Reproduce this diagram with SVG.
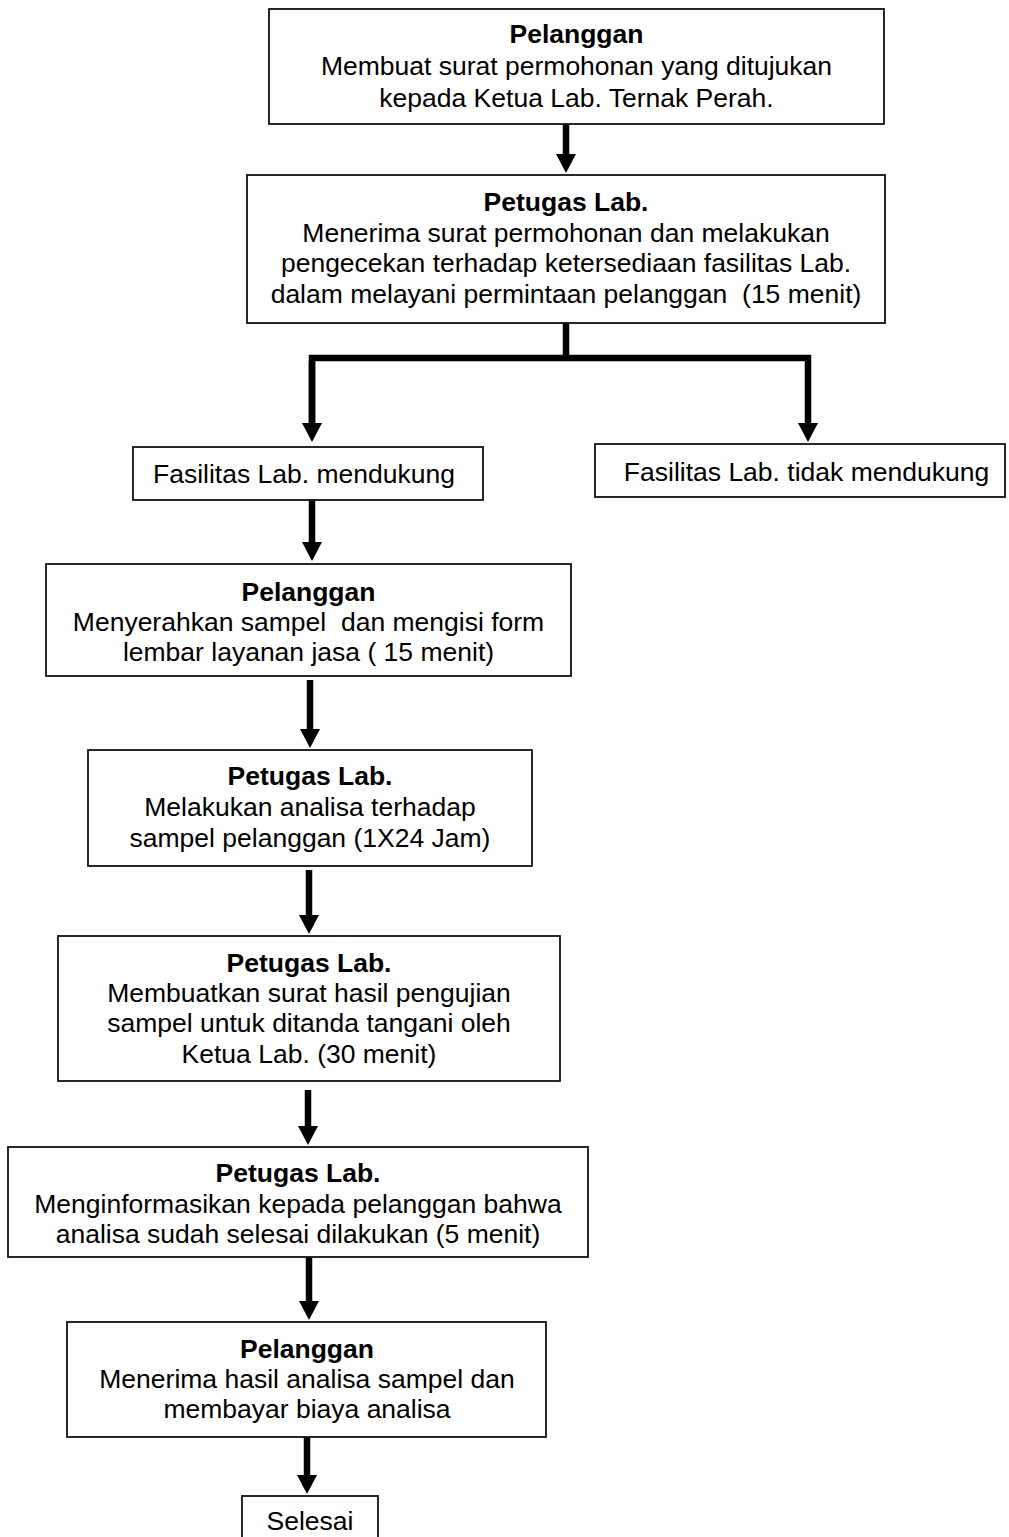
<svg xmlns="http://www.w3.org/2000/svg" width="1009" height="1537" viewBox="0 0 1009 1537" xml:space="preserve">
<style>
  .box { fill: #fff; stroke: #111; stroke-width: 1.8; }
  .t { font-family: "Liberation Sans", Arial, sans-serif; font-size: 26.5px; fill: #000; text-anchor: middle; white-space: pre; }
  .b { font-weight: bold; }
  .conn { fill: none; stroke: #000; stroke-width: 6.5; }
</style>
<defs>
  <marker id="ah" markerUnits="userSpaceOnUse" markerWidth="20" markerHeight="20" refX="1" refY="10" orient="auto" viewBox="0 0 20 20">
    <path d="M0,0 L19,10 L0,20 z" fill="#000"/>
  </marker>
</defs>
<rect width="1009" height="1537" fill="#fff"/>

<g id="connectors">
  <path class="conn" d="M566,124 V155" marker-end="url(#ah)"/>
  <path class="conn" d="M566,323 V358"/>
  <path class="conn" d="M312,424 V358 H808 V424" marker-end="url(#ah)"/>
  <path class="conn" d="M312,362 V424" marker-end="url(#ah)"/>
  <path class="conn" d="M312,500 V543" marker-end="url(#ah)"/>
  <path class="conn" d="M310,680 V730" marker-end="url(#ah)"/>
  <path class="conn" d="M309,870 V916" marker-end="url(#ah)"/>
  <path class="conn" d="M308,1090 V1127" marker-end="url(#ah)"/>
  <path class="conn" d="M309,1257 V1302" marker-end="url(#ah)"/>
  <path class="conn" d="M307,1437 V1476" marker-end="url(#ah)"/>
</g>

<g id="n1">
  <rect class="box" x="269" y="9" width="615" height="115"/>
  <text class="t b" x="576.5" y="43">Pelanggan</text>
  <text class="t" x="576.5" y="75">Membuat surat permohonan yang ditujukan</text>
  <text class="t" x="576.5" y="107">kepada Ketua Lab. Ternak Perah.</text>
</g>

<g id="n2">
  <rect class="box" x="247" y="175" width="638" height="148"/>
  <text class="t b" x="566" y="211">Petugas Lab.</text>
  <text class="t" x="566" y="242">Menerima surat permohonan dan melakukan</text>
  <text class="t" x="566" y="272">pengecekan terhadap ketersediaan fasilitas Lab.</text>
  <text class="t" x="566" y="303">dalam melayani permintaan pelanggan  (15 menit)</text>
</g>

<g id="n3">
  <rect class="box" x="133" y="447" width="350" height="53"/>
  <text class="t" x="304" y="483">Fasilitas Lab. mendukung</text>
</g>

<g id="n4">
  <rect class="box" x="595" y="444" width="410" height="53"/>
  <text class="t" x="806.5" y="481">Fasilitas Lab. tidak mendukung</text>
</g>

<g id="n5">
  <rect class="box" x="46" y="564" width="525" height="112"/>
  <text class="t b" x="308.5" y="601">Pelanggan</text>
  <text class="t" x="308.5" y="631">Menyerahkan sampel  dan mengisi form</text>
  <text class="t" x="308.5" y="661">lembar layanan jasa ( 15 menit)</text>
</g>

<g id="n6">
  <rect class="box" x="88" y="750" width="444" height="116"/>
  <text class="t b" x="310" y="785">Petugas Lab.</text>
  <text class="t" x="310" y="816">Melakukan analisa terhadap</text>
  <text class="t" x="310" y="847">sampel pelanggan (1X24 Jam)</text>
</g>

<g id="n7">
  <rect class="box" x="58" y="936" width="502" height="145"/>
  <text class="t b" x="309" y="972">Petugas Lab.</text>
  <text class="t" x="309" y="1002">Membuatkan surat hasil pengujian</text>
  <text class="t" x="309" y="1032">sampel untuk ditanda tangani oleh</text>
  <text class="t" x="309" y="1063">Ketua Lab. (30 menit)</text>
</g>

<g id="n8">
  <rect class="box" x="8" y="1147" width="580" height="110"/>
  <text class="t b" x="298" y="1182">Petugas Lab.</text>
  <text class="t" x="298" y="1213">Menginformasikan kepada pelanggan bahwa</text>
  <text class="t" x="298" y="1243">analisa sudah selesai dilakukan (5 menit)</text>
</g>

<g id="n9">
  <rect class="box" x="67" y="1322" width="479" height="115"/>
  <text class="t b" x="307" y="1358">Pelanggan</text>
  <text class="t" x="307" y="1388">Menerima hasil analisa sampel dan</text>
  <text class="t" x="307" y="1418">membayar biaya analisa</text>
</g>

<g id="n10">
  <rect class="box" x="242" y="1496" width="136" height="50"/>
  <text class="t" x="310" y="1530">Selesai</text>
</g>
</svg>
